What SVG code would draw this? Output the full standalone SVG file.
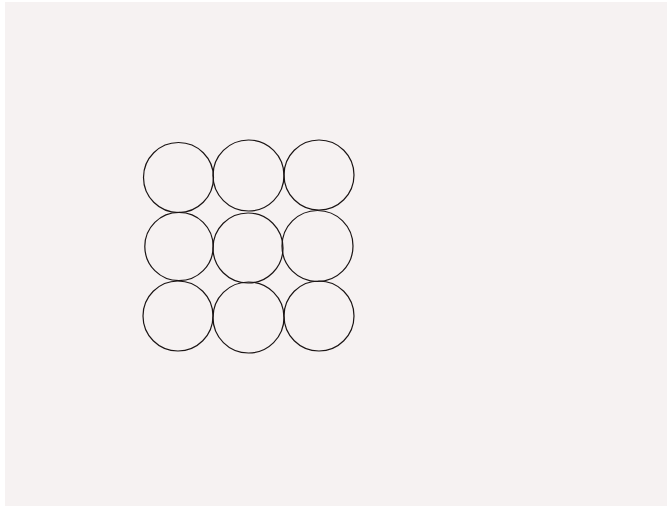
<svg xmlns="http://www.w3.org/2000/svg" width="667" height="506" viewBox="0 0 667 506">
<style>
.c{fill:none;stroke:#1a1414;stroke-width:1.2}
</style>
<rect x="0" y="0" width="667" height="506" fill="#ffffff"/>
<rect x="5" y="2" width="662" height="504" fill="#f6f2f2"/>
<g id="c1"><circle class="c" cx="178.5" cy="177.5" r="35"/></g>
<g id="c2"><circle class="c" cx="248.5" cy="175.5" r="35.5"/></g>
<g id="c3"><circle class="c" cx="319" cy="175" r="35"/></g>
<g id="c4"><circle class="c" cx="179" cy="246.5" r="34.2"/></g>
<g id="c5"><circle class="c" cx="248" cy="248" r="35"/></g>
<g id="c6"><circle class="c" cx="317.5" cy="246" r="35.5"/></g>
<g id="c7"><circle class="c" cx="178" cy="316" r="35"/></g>
<g id="c8"><circle class="c" cx="248.5" cy="317.5" r="35.5"/></g>
<g id="c9"><circle class="c" cx="319" cy="316" r="35"/></g>
<g id="connectors"></g>
</svg>
